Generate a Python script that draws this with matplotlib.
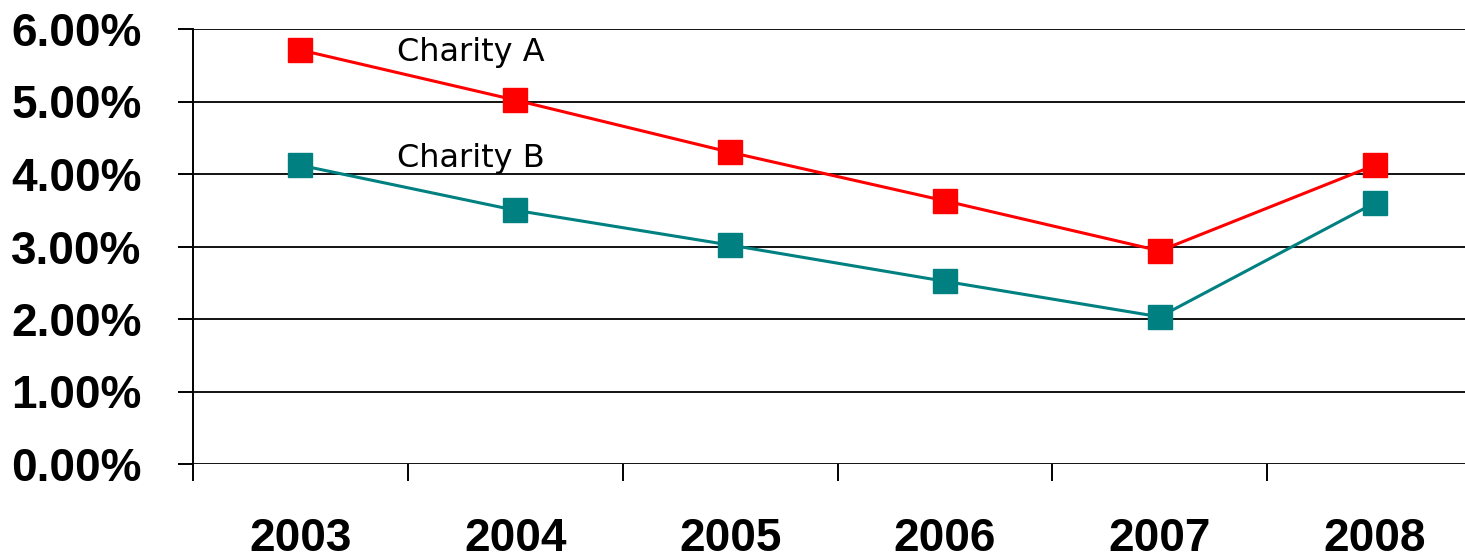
import matplotlib
matplotlib.use("Agg")
import matplotlib.pyplot as plt
from matplotlib.ticker import FuncFormatter

years = ["2003", "2004", "2005", "2006", "2007", "2008"]
charity_a = [5.71, 5.02, 4.30, 3.63, 2.94, 4.12]
charity_b = [4.12, 3.50, 3.02, 2.52, 2.03, 3.60]
y_ticks = [0, 1, 2, 3, 4, 5, 6]

W, H = 1465, 559
fig = plt.figure(figsize=(W / 100, H / 100), dpi=100)
ax = fig.add_axes([193 / W, 1 - 464 / H, (1482 - 193) / W, 435 / H])

x = list(range(len(years)))
ax.plot(x, charity_a, color="#ff0000", lw=2.2, marker="s", ms=17,
        mec="#ff0000", mfc="#ff0000", zorder=3, clip_on=False)
ax.plot(x, charity_b, color="#008080", lw=2.2, marker="s", ms=17,
        mec="#008080", mfc="#008080", zorder=3, clip_on=False)

ax.text(0.45, 5.68, "Charity A", fontsize=23, va="center", ha="left",
        family="DejaVu Sans")
ax.text(0.45, 4.22, "Charity B", fontsize=23, va="center", ha="left",
        family="DejaVu Sans")

ax.set_xlim(-0.5, 5.5)
ax.set_ylim(0, 6)
ax.set_yticks(y_ticks)
ax.yaxis.set_major_formatter(FuncFormatter(lambda v, p: f"{v:.2f}%"))
ax.set_xticks([i + 0.5 for i in range(-1, 5)])
ax.set_xticklabels([])
ax.set_xticks(x, minor=True)
ax.set_xticklabels(years, minor=True)

ax.yaxis.grid(True, color="#111111", lw=1.4)
ax.set_axisbelow(True)
for s in ["top", "right", "bottom"]:
    ax.spines[s].set_visible(False)
ax.spines["left"].set_linewidth(1.4)

ax.tick_params(axis="y", length=11, width=1.4, pad=26, labelsize=33)
ax.tick_params(axis="x", which="major", length=12, width=1.4)
ax.tick_params(axis="x", which="minor", length=0, pad=38, labelsize=33)
for lbl in ax.get_yticklabels() + ax.get_xticklabels(minor=True):
    lbl.set_fontfamily("Liberation Sans")
    lbl.set_fontweight("bold")

fig.savefig("out.png", dpi=100)
